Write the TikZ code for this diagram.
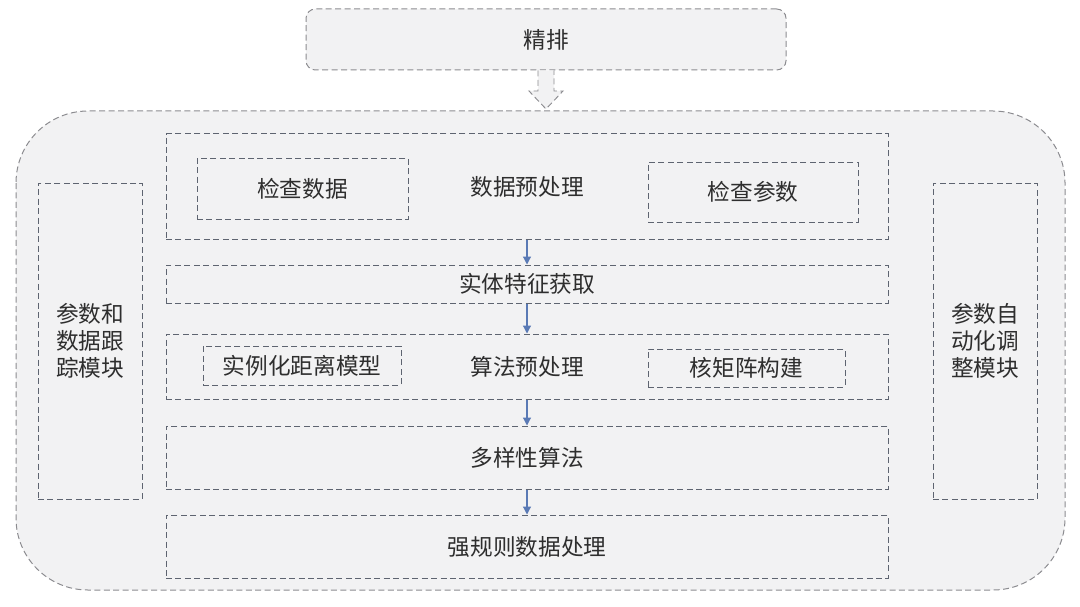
\documentclass[tikz,border=0pt]{standalone}
\usepackage{fontspec}
\newfontfamily\cjk{Noto Sans CJK SC}
\usetikzlibrary{fit,arrows.meta}
\definecolor{boxfill}{HTML}{F2F2F3}
\definecolor{outerline}{HTML}{8C8C90}
\definecolor{boxline}{HTML}{5E6470}
\definecolor{arrowblue}{HTML}{5A7AB5}
\begin{document}
\begin{tikzpicture}[x=0.75pt,y=-0.75pt,
  dsh/.style={dash pattern=on 4.5pt off 2.6pt, line width=0.75pt},
  lbl/.style={font=\cjk\fontsize{17}{20.5}\selectfont, text=black!82, align=center, inner sep=0pt},
  box/.style={dsh, draw=boxline, fill=boxfill, inner sep=0pt},
  arr/.style={draw=arrowblue, line width=0.9pt, -{Triangle[length=6pt,width=6pt]}}]
\useasboundingbox (0,0) rectangle (1080,606);
\fill[white] (0,0) rectangle (1080,606);
% outer container
\draw[dsh, draw=outerline, fill=boxfill, rounded corners=54pt] (16,111) rectangle (1065,590);
% top box
\node[box, draw=outerline, rounded corners=7pt, fit={(306,9)(786,70)}, label={[lbl]center:精排}] (top) {};
% hollow arrow
\draw[dsh, draw=outerline, fill=boxfill, line width=0.7pt]
  (top.south -| 538,0) -- (538,91) -- (529,91) -- (546,109) -- (563,91) -- (554,91) -- (top.south -| 554,0);
% side boxes
\node[box, fit={(38,183)(142,499)}, label={[lbl]center:参数和\\数据跟\\踪模块}] (left) {};
\node[box, fit={(933,183)(1037,499)}, label={[lbl]center:参数自\\动化调\\整模块}] (right) {};
% main stack
\node[box, fit={(166,134)(888,239)}, label={[lbl]center:数据预处理}] (pre) {};
\node[box, fit={(197,158)(408,219)}, label={[lbl]center:检查数据}] (chkd) {};
\node[box, fit={(648,162)(858,222)}, label={[lbl]center:检查参数}] (chkp) {};
\node[box, fit={(166,265)(888,303)}, label={[lbl]center:实体特征获取}] (feat) {};
\node[box, fit={(166,334)(888,399)}, label={[lbl]center:算法预处理}] (alg) {};
\node[box, fit={(203,346)(401,385)}, label={[lbl]center:实例化距离模型}] (inst) {};
\node[box, fit={(648,349)(845,387)}, label={[lbl]center:核矩阵构建}] (kern) {};
\node[box, fit={(166,426)(888,489)}, label={[lbl]center:多样性算法}] (div) {};
\node[box, fit={(166,515)(888,578)}, label={[lbl]center:强规则数据处理}] (rule) {};
% arrows
\draw[arr] (pre.south) -- (feat.north);
\draw[arr] (feat.south) -- (alg.north);
\draw[arr] (alg.south) -- (div.north);
\draw[arr] (div.south) -- (rule.north);
\end{tikzpicture}
\end{document}
